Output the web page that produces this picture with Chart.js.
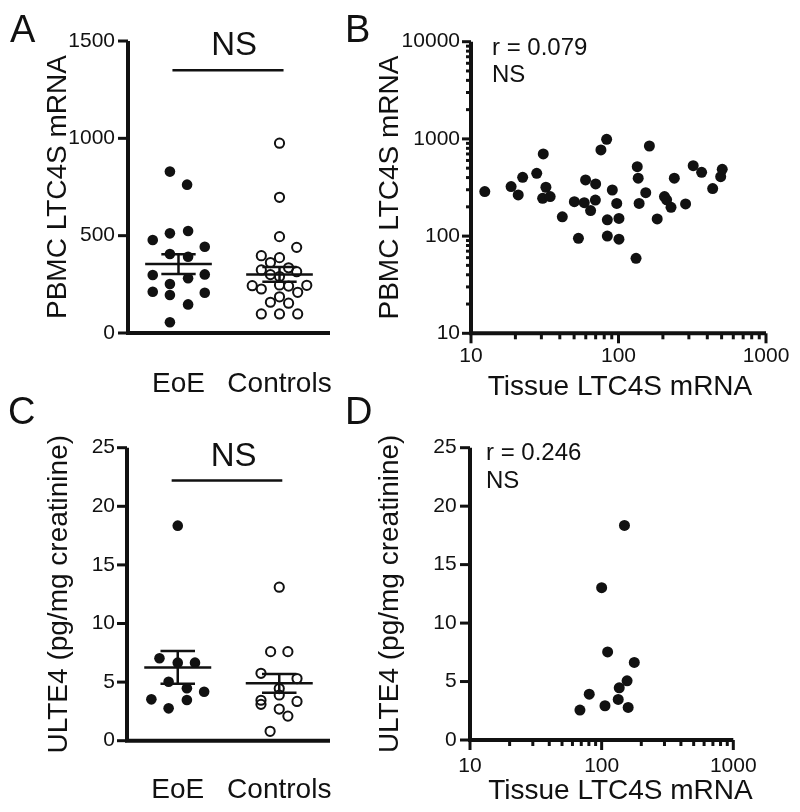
<!DOCTYPE html>
<html lang="en">
<head>
<meta charset="utf-8">
<title>LTC4S / ULTE4</title>
<script src="https://cdn.jsdelivr.net/npm/chart.js@4.4.1/dist/chart.umd.min.js"></script>
<style>
  body { margin: 0; background: #fff; }
  #fig { position: relative; width: 800px; height: 812px; overflow: hidden; }
  #fig canvas { position: absolute; }
  .letter { position: absolute; font: 38px/38px "Liberation Sans", Arial, sans-serif; color: #111; }
</style>
</head>
<body>
<div id="fig">
  <canvas id="chartA" width="400" height="412" style="left:0;top:0"></canvas>
  <canvas id="chartB" width="455" height="412" style="left:345px;top:0"></canvas>
  <canvas id="chartC" width="400" height="412" style="left:0;top:400px"></canvas>
  <canvas id="chartD" width="455" height="412" style="left:345px;top:400px"></canvas>
  <div class="letter" style="left:10px;top:10px">A</div>
  <div class="letter" style="left:345px;top:10px">B</div>
  <div class="letter" style="left:8px;top:392px">C</div>
  <div class="letter" style="left:345px;top:392px">D</div>
</div>
<script>
// ---------- data ----------
const groups = ["EoE", "Controls"];

// A: PBMC LTC4S mRNA, jitter = offset of the dot inside its column
const pbmcEoE = [829, 762, 524, 512, 478, 443, 406, 392, 301, 298, 281, 252, 212, 207, 195, 147, 55];
const pbmcEoEJit = [-0.085, 0.085, 0.095, -0.085, -0.255, 0.26, -0.085, 0.095, 0.26, -0.255, 0.095, -0.085, -0.255, 0.26, -0.085, 0.095, -0.085];
const pbmcCtrl = [975, 697, 495, 440, 397, 387, 362, 335, 324, 315, 300, 290, 247, 245, 243, 241, 226, 209, 186, 158, 153, 98, 98, 98];
const pbmcCtrlJit = [0, 0, 0, 0.17, -0.18, 0, -0.09, 0.09, -0.18, 0.17, -0.09, 0, 0, 0.27, -0.27, 0.09, -0.18, 0.18, 0, -0.09, 0.09, -0.18, 0, 0.18];
const pbmcMean = [354, 301];
const pbmcSem = [51, 38];
const pbmcTicks = [0, 500, 1000, 1500];

// B: tissue vs PBMC LTC4S mRNA (log-log)
const tissueB = [12.4, 18.7, 20.9, 22.4, 27.9, 30.9, 32.2, 30.6, 34.4, 41.6, 50.2, 53.5, 58.6, 59.8, 64.7, 70.0, 69.7, 76.0, 83.1, 90.8, 84.0, 84.0, 97.3, 100.7, 100.7, 134, 136, 138, 131.5, 153, 162, 183, 205, 212, 227, 239, 285, 321, 366, 435, 493, 505];
const pbmcB = [287, 323, 265, 403, 443, 700, 318, 245, 255, 158, 226, 95, 221, 378, 183, 344, 235, 770, 990, 298, 147, 100, 217, 152, 93, 518, 394, 217, 59, 280, 845, 150, 255, 236, 198, 394, 214, 530, 453, 308, 409, 487];
const pbmcLogTicks = [10, 100, 1000, 10000];
const tissueLogTicks = [10, 100, 1000];

// C: urinary LTE4
const ulteEoE = [18.35, 7.03, 6.66, 6.66, 5.03, 4.47, 4.18, 3.53, 3.47, 2.76];
const ulteEoEJit = [0, -0.18, 0, 0.17, -0.09, 0.09, 0.26, -0.26, 0.09, -0.09];
const ulteCtrl = [13.1, 7.6, 7.6, 5.75, 5.3, 4.45, 3.9, 3.45, 3.35, 3.1, 2.7, 2.1, 0.8];
const ulteCtrlJit = [0, -0.085, 0.085, -0.18, 0.175, 0, 0, -0.18, 0.175, -0.18, 0, 0.085, -0.09];
const ulteMean = [6.25, 4.9];
const ulteSem = [1.4, 0.8];
const ulteTicks = [0, 5, 10, 15, 20, 25];

// D: tissue LTC4S vs ULTE4
const tissueD = [149, 100, 111, 177, 156, 136, 80.5, 133.6, 106, 159, 68.4];
const ulteD = [18.35, 13.03, 7.53, 6.63, 5.06, 4.46, 3.92, 3.47, 2.93, 2.79, 2.56];

// ---------- helpers ----------
const FONT = "'Liberation Sans', Arial, Helvetica, sans-serif";
Chart.defaults.font.family = FONT;
Chart.defaults.color = "#111";

function logTicks(decades) {
    const out = [];
    for (let i = 0; i < decades.length - 1; i++) {
        for (let k = 1; k < 10; k++) out.push(decades[i] * k);
    }
    out.push(decades[decades.length - 1]);
    return out;
}
const column = (vals, jit, centre) => vals.map((v, i) => ({ x: centre + jit[i], y: v }));
const pairs = (xs, ys) => xs.map((x, i) => ({ x: x, y: ys[i] }));

function seg(ctx, x1, y1, x2, y2) {
    ctx.beginPath();
    ctx.moveTo(x1, y1);
    ctx.lineTo(x2, y2);
    ctx.stroke();
}

// axes, tick marks, mean/SEM bars and the text notes
function makeDecor(o) {
    return {
        id: "decor",
        beforeDatasetsDraw(chart) {
            const { ctx, chartArea: a, scales: { x, y } } = chart;
            ctx.save();
            ctx.strokeStyle = "#111";
            ctx.lineWidth = 3;
            y.ticks.forEach((t) => {
                const p = y.getPixelForValue(t.value);
                const len = o.yLabeled.includes(t.value) ? o.yLen[0] : o.yLen[1];
                seg(ctx, a.left - len, p, a.left, p);
            });
            if (o.xLen) {
                x.ticks.forEach((t) => {
                    const p = x.getPixelForValue(t.value);
                    const len = o.xLabeled.includes(t.value) ? o.xLen[0] : o.xLen[1];
                    seg(ctx, p, a.bottom, p, a.bottom + len);
                });
            }
            ctx.lineWidth = 4;
            ctx.beginPath();
            ctx.moveTo(a.left, a.top);
            ctx.lineTo(a.left, a.bottom);
            ctx.lineTo(a.right, a.bottom);
            ctx.stroke();
            ctx.restore();
        },
        afterDatasetsDraw(chart) {
            const { ctx, chartArea: a, scales: { x, y } } = chart;
            const X = (v) => x.getPixelForValue(v);
            const Y = (v) => y.getPixelForValue(v);
            ctx.save();
            ctx.strokeStyle = "#111";
            ctx.fillStyle = "#111";
            ctx.lineWidth = 2.5;
            (o.means || []).forEach((m, i) => {
                const c = i + 1, s = o.sems[i];
                seg(ctx, X(c - 0.33), Y(m), X(c + 0.33), Y(m));
                seg(ctx, X(c), Y(m - s), X(c), Y(m + s));
                seg(ctx, X(c - 0.17), Y(m + s), X(c + 0.17), Y(m + s));
                seg(ctx, X(c - 0.17), Y(m - s), X(c + 0.17), Y(m - s));
            });
            if (o.ns) {
                const ly = Y(o.ns.y);
                seg(ctx, X(o.ns.from), ly, X(o.ns.to), ly);
                ctx.font = "33px " + FONT;
                ctx.textAlign = "center";
                ctx.textBaseline = "alphabetic";
                ctx.fillText("NS", X(o.ns.at), ly - 15);
            }
            ctx.font = "24px " + FONT;
            ctx.textAlign = "left";
            ctx.textBaseline = "alphabetic";
            (o.notes || []).forEach((n) => ctx.fillText(n.text, a.left + n.dx, a.top + n.dy));
            if (o.xTitle) {
                ctx.font = "28px " + FONT;
                ctx.textAlign = "center";
                ctx.textBaseline = "middle";
                ctx.fillText(o.xTitle.text, (a.left + a.right) / 2 + o.xTitle.dx, a.bottom + o.xTitle.dy);
            }
            ctx.restore();
        },
    };
}

const hidden = { grid: { display: false, drawTicks: false }, border: { display: false } };

function makeChart(id, p) {
    const cv = document.getElementById(id);
    const a = p.area;
    p.x.afterFit = (s) => { s.height = cv.height - a.bottom; };
    p.y.afterFit = (s) => { s.width = a.left; };
    return new Chart(cv, {
        type: "scatter",
        data: { datasets: p.datasets },
        options: {
            responsive: false,
            animation: false,
            events: [],
            layout: { padding: { left: 0, top: a.top, right: cv.width - a.right, bottom: 0 } },
            plugins: { legend: { display: false }, tooltip: { enabled: false } },
            scales: { x: p.x, y: p.y },
        },
        plugins: [makeDecor(p.decor)],
    });
}

const filled = (data, r) => ({ data: data, pointRadius: r, pointBackgroundColor: "#111", pointBorderColor: "#111", pointBorderWidth: 0 });
const open = (data) => ({ data: data, pointRadius: 4.6, pointBackgroundColor: "rgba(0,0,0,0)", pointBorderColor: "#111", pointBorderWidth: 2 });

function groupAxis(pad) {
    return {
        type: "linear", min: 0.5, max: 2.5, ...hidden,
        afterBuildTicks: (s) => { s.ticks = groups.map((g, i) => ({ value: i + 1 })); },
        ticks: { callback: (v) => groups[Math.round(v) - 1], padding: pad, font: { size: 28 }, maxRotation: 0, autoSkip: false },
    };
}
function linAxis(min, max, ticks, pad, title, titlePad) {
    return {
        type: "linear", min: min, max: max, ...hidden,
        afterBuildTicks: (s) => { s.ticks = ticks.map((v) => ({ value: v })); },
        ticks: { callback: (v) => String(v), padding: pad, font: { size: 21 }, autoSkip: false },
        title: { display: true, text: title, font: { size: 28 }, padding: { top: titlePad, bottom: 0 } },
    };
}
function logAxis(labels, pad, title, titlePad) {
    const ax = {
        type: "logarithmic", min: labels[0], max: labels[labels.length - 1], ...hidden,
        afterBuildTicks: (s) => { s.ticks = logTicks(labels).map((v) => ({ value: v })); },
        ticks: { callback: (v) => (labels.includes(v) ? String(v) : ""), padding: pad, font: { size: 21 }, maxRotation: 0, autoSkip: false },
    };
    if (title) ax.title = { display: true, text: title, font: { size: 28 }, padding: { top: titlePad, bottom: 0 } };
    return ax;
}

// ---------- A ----------
makeChart("chartA", {
    area: { left: 128, right: 330, top: 41, bottom: 333 },
    datasets: [filled(column(pbmcEoE, pbmcEoEJit, 1), 5.3), open(column(pbmcCtrl, pbmcCtrlJit, 2))],
    x: groupAxis(34),
    y: linAxis(0, 1500, pbmcTicks, 13, "PBMC LTC4S mRNA", 41),
    decor: { yLabeled: pbmcTicks, yLen: [10, 10], means: pbmcMean, sems: pbmcSem,
             ns: { y: 1350, from: 0.94, to: 2.04, at: 1.55 } },
});

// ---------- B ----------
makeChart("chartB", {
    area: { left: 126, right: 421, top: 41.7, bottom: 333.3 },
    datasets: [filled(pairs(tissueB, pbmcB), 5.5)],
    x: logAxis(tissueLogTicks, 10),
    y: logAxis(pbmcLogTicks, 11, "PBMC LTC4S mRNA", 28.7),
    decor: { yLabeled: pbmcLogTicks, yLen: [9, 5], xLabeled: tissueLogTicks, xLen: [10, 6],
             notes: [{ text: "r = 0.079", dx: 21, dy: 13.3 }, { text: "NS", dx: 21, dy: 40 }],
             xTitle: { text: "Tissue LTC4S mRNA", dx: 1.5, dy: 54.2 } },
});

// ---------- C ----------
makeChart("chartC", {
    area: { left: 127, right: 330, top: 47.7, bottom: 340.7 },
    datasets: [filled(column(ulteEoE, ulteEoEJit, 1), 5.3), open(column(ulteCtrl, ulteCtrlJit, 2))],
    x: groupAxis(32.5),
    y: linAxis(0, 25, ulteTicks, 12, "ULTE4 (pg/mg creatinine)", 42),
    decor: { yLabeled: ulteTicks, yLen: [10, 10], means: ulteMean, sems: ulteSem,
             ns: { y: 22.2, from: 0.94, to: 2.03, at: 1.55 } },
});

// ---------- D ----------
makeChart("chartD", {
    area: { left: 125, right: 388.3, top: 47.7, bottom: 340 },
    datasets: [filled(pairs(tissueD, ulteD), 5.5)],
    x: logAxis(tissueLogTicks, 13.2),
    y: linAxis(0, 25, ulteTicks, 13.3, "ULTE4 (pg/mg creatinine)", 28.2),
    decor: { yLabeled: ulteTicks, yLen: [10, 10], xLabeled: tissueLogTicks, xLen: [10, 6],
             notes: [{ text: "r = 0.246", dx: 16, dy: 12.3 }, { text: "NS", dx: 16, dy: 40.6 }],
             xTitle: { text: "Tissue LTC4S mRNA", dx: 18.8, dy: 51 } },
});
</script>
</body>
</html>
